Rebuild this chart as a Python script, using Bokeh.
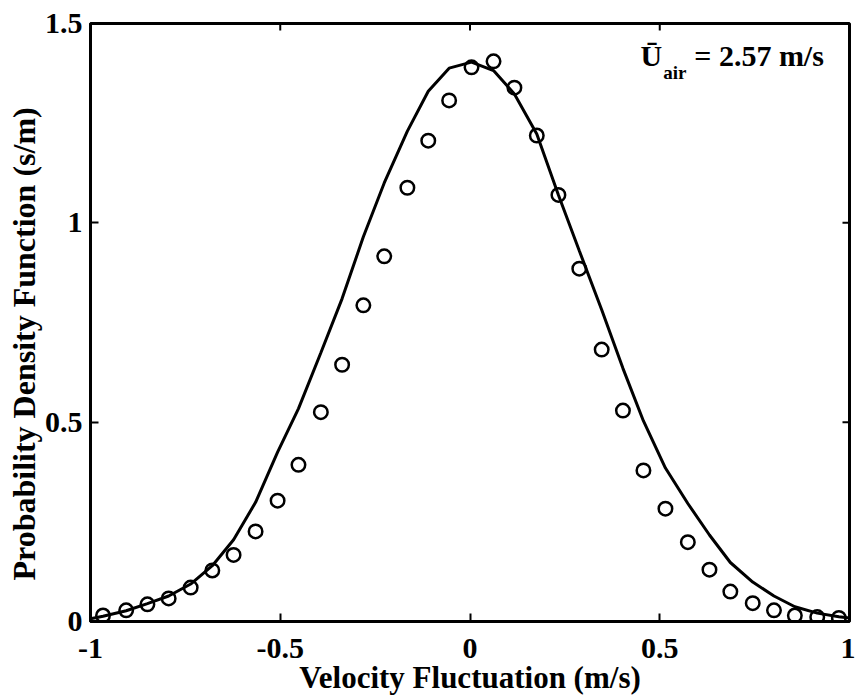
import math
from bokeh.plotting import figure
from bokeh.models import Range1d, FixedTicker, Label, Title
from bokeh.embed import file_html
from bokeh.resources import INLINE

# measured PDF (circles)
meas_x = [-0.967, -0.906, -0.850, -0.794, -0.736, -0.679, -0.623, -0.565, -0.507, -0.452,
          -0.393, -0.337, -0.281, -0.226, -0.165, -0.110, -0.055, 0.004, 0.062, 0.117,
          0.176, 0.233, 0.288, 0.347, 0.403, 0.457, 0.515, 0.574, 0.631, 0.686,
          0.745, 0.801, 0.856, 0.915, 0.972]
meas_y = [0.015, 0.028, 0.043, 0.058, 0.085, 0.128, 0.167, 0.226, 0.303, 0.393,
          0.525, 0.644, 0.793, 0.916, 1.088, 1.206, 1.307, 1.390, 1.405, 1.339,
          1.219, 1.070, 0.885, 0.682, 0.529, 0.379, 0.283, 0.199, 0.130, 0.075,
          0.046, 0.028, 0.015, 0.011, 0.009]

# model PDF (solid line)
fit_x = [-1.0, -0.967, -0.906, -0.850, -0.794, -0.736, -0.679, -0.623, -0.565, -0.507,
         -0.452, -0.393, -0.337, -0.281, -0.226, -0.165, -0.110, -0.055, 0.004, 0.062,
         0.117, 0.176, 0.233, 0.288, 0.347, 0.403, 0.457, 0.515, 0.574, 0.631,
         0.686, 0.745, 0.801, 0.856, 0.915, 0.972, 1.0]
fit_y = [0.007, 0.013, 0.027, 0.045, 0.064, 0.094, 0.140, 0.205, 0.299, 0.425,
         0.534, 0.674, 0.810, 0.965, 1.100, 1.230, 1.330, 1.388, 1.403, 1.382,
         1.323, 1.223, 1.070, 0.930, 0.782, 0.635, 0.503, 0.385, 0.296, 0.217,
         0.148, 0.099, 0.064, 0.037, 0.021, 0.012, 0.009]

x_ticks = [-1, -0.5, 0, 0.5, 1]
x_tick_labels = ["-1", "-0.5", "0", "0.5", "1"]
y_ticks = [0, 0.5, 1, 1.5]
y_tick_labels = ["0", "0.5", "1", "1.5"]

FONT = "Liberation Serif"
TICK_FS = "30px"
LAB_FS = "31px"

p = figure(width=855, height=698, output_backend="svg", toolbar_location=None,
           x_range=Range1d(-1, 1), y_range=Range1d(0, 1.5),
           min_border_left=90, min_border_right=6, min_border_top=23, min_border_bottom=77,
           x_axis_label="Velocity Fluctuation (m/s)")
p.grid.visible = False
p.outline_line_color = "black"
p.outline_line_width = 3
p.background_fill_color = "white"
p.border_fill_color = "white"

p.line(fit_x, fit_y, line_color="black", line_width=3)
p.scatter(meas_x, meas_y, marker="circle", size=13.5, fill_color=None,
          line_color="black", line_width=2.5)

# inward ticks on the top and right edges (half of each dash is clipped by the frame)
p.scatter(x_ticks, [1.5] * len(x_ticks), marker="dash", angle=math.pi / 2, size=14,
          line_color="black", line_width=2)
p.scatter([1] * len(y_ticks), y_ticks, marker="dash", size=14,
          line_color="black", line_width=2)

for ax, ticks, labels in ((p.xaxis[0], x_ticks, x_tick_labels), (p.yaxis[0], y_ticks, y_tick_labels)):
    ax.ticker = FixedTicker(ticks=ticks)
    ax.major_label_overrides = {t: l for t, l in zip(ticks, labels)}
    ax.minor_tick_line_color = None
    ax.major_tick_in = 8
    ax.major_tick_out = 0
    ax.major_tick_line_width = 2
    ax.axis_line_width = 3
    ax.major_label_text_font = FONT
    ax.major_label_text_font_style = "bold"
    ax.major_label_text_font_size = TICK_FS
    ax.major_label_text_color = "black"

p.xaxis.major_label_standoff = 17
p.yaxis.major_label_standoff = 8
p.xaxis.axis_label_text_font = FONT
p.xaxis.axis_label_text_font_style = "bold"
p.xaxis.axis_label_text_font_size = LAB_FS
p.xaxis.axis_label_text_color = "black"
p.xaxis.axis_label_standoff = -1

# y-axis title
p.add_layout(Title(text="Probability Density Function (s/m)", align="left", offset=41,
                   text_font=FONT, text_font_style="bold", text_font_size="32px",
                   text_color="black", standoff=0), "left")

# annotation  U_air = 2.57 m/s
p.add_layout(Label(x=0.449, y=1.420, text="Ū", text_align="left", text_baseline="alphabetic",
                   text_font=FONT, text_font_style="bold", text_font_size="30px", text_color="black"))
p.add_layout(Label(x=0.509, y=1.377, text="air", text_align="left", text_baseline="alphabetic",
                   text_font=FONT, text_font_style="bold", text_font_size="19px", text_color="black"))
p.add_layout(Label(x=0.591, y=1.420, text="= 2.57 m/s", text_align="left", text_baseline="alphabetic",
                   text_font=FONT, text_font_style="bold", text_font_size="30px", text_color="black"))

open("out.html", "w").write(file_html(p, INLINE))
